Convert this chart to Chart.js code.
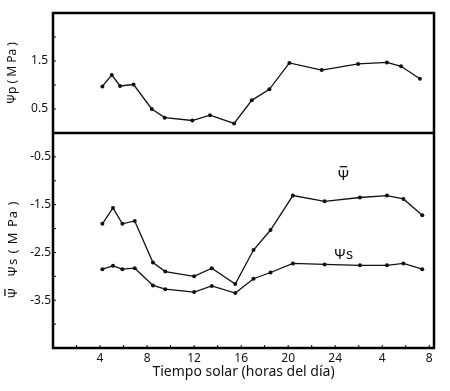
<!DOCTYPE html>
<html>
<head>
<meta charset="utf-8">
<script src="https://cdn.jsdelivr.net/npm/chart.js@4"></script>
<style>
  html, body { margin: 0; padding: 0; background: #fff; }
  #wrap { position: relative; width: 450px; height: 391px; }
</style>
</head>
<body>
<div id="wrap"><canvas id="chart" width="450" height="391"></canvas></div>
<script>
// solar time in hours (after 24 the clock wraps: 28 = 4h, 32 = 8h)
const hoursP = [4.2, 5.0, 5.7, 6.85, 8.4, 9.5, 11.85, 13.35, 15.4, 16.9, 18.4, 20.1, 22.85, 25.95, 28.4, 29.6, 31.2];
const hoursS = [4.2, 5.1, 5.9, 6.95, 8.5, 9.55, 12.0, 13.5, 15.5, 17.05, 18.5, 20.4, 23.1, 26.1, 28.4, 29.8, 31.4];

// pressure potential (MPa), top panel
const psiP = [0.97, 1.21, 0.98, 1.01, 0.50, 0.32, 0.26, 0.37, 0.20, 0.68, 0.91, 1.46, 1.31, 1.44, 1.47, 1.39, 1.13];
// mean water potential and osmotic potential (MPa), bottom panel
const psiBar = [-1.90, -1.57, -1.90, -1.84, -2.71, -2.90, -3.00, -2.83, -3.16, -2.45, -2.03, -1.31, -1.43, -1.35, -1.31, -1.38, -1.72];
const psiS = [-2.85, -2.78, -2.85, -2.83, -3.19, -3.27, -3.33, -3.20, -3.35, -3.05, -2.92, -2.73, -2.75, -2.77, -2.77, -2.73, -2.85];

// tick labels
const xTickValues = [4, 8, 12, 16, 20, 24, 28, 32];
const xTickLabels = ['4', '8', '12', '16', '20', '24', '4', '8'];
const yTopTicks = [0.5, 1.5];
const yBottomTicks = [-0.5, -1.5, -2.5, -3.5];

// curve names drawn inside the lower panel (data units); Ψ̄ gets its bar drawn by hand
const curveNames = ['Ψ̄', 'Ψs'];
const curveNameX = [24.7, 24.7];
const curveNameY = [-0.9, -2.55];

const FONT = "'Noto Sans', 'DejaVu Sans', sans-serif";

function pts(xs, ys) {
    return xs.map((x, i) => ({ x: x, y: ys[i] }));
}

function near(list, v) {
    return list.findIndex(t => Math.abs(t - v) < 1e-6);
}

// draws a Ψ with an overbar, centred on (x, y)
function drawPsiBar(ctx, x, y, size) {
    ctx.textAlign = 'center';
    ctx.textBaseline = 'middle';
    ctx.fillText('Ψ', x, y);
    const w = ctx.measureText('Ψ').width;
    ctx.lineWidth = 1.2;
    ctx.beginPath();
    ctx.moveTo(x - w * 0.3, y - size * 0.62);
    ctx.lineTo(x + w * 0.3, y - size * 0.62);
    ctx.stroke();
}

// frame, inward ticks, curve names and the lower axis title
const framePlugin = {
    id: 'frame',
    afterDraw(chart) {
        const { ctx, chartArea: a, scales } = chart;
        ctx.save();
        ctx.strokeStyle = '#000';
        ctx.fillStyle = '#111';
        ctx.lineWidth = 1;

        // small inward ticks
        ctx.beginPath();
        scales.x.ticks.forEach(t => {
            if (t.value <= 0 || t.value % 2 !== 0) return;
            const px = scales.x.getPixelForValue(t.value);
            ctx.moveTo(px, a.bottom);
            ctx.lineTo(px, a.bottom - 3);
        });
        ['yP', 'yS'].forEach(id => {
            const s = scales[id];
            s.ticks.forEach(t => {
                if (t.value <= s.min || t.value >= s.max) return;
                const py = s.getPixelForValue(t.value);
                ctx.moveTo(a.left, py);
                ctx.lineTo(a.left + 3, py);
            });
        });
        ctx.stroke();

        // heavy frame and panel divider
        ctx.lineWidth = 2.5;
        ctx.strokeRect(a.left, a.top, a.right - a.left, a.bottom - a.top);
        const divY = Math.min(scales.yP.bottom, scales.yS.bottom);
        ctx.beginPath();
        ctx.moveTo(a.left, divY);
        ctx.lineTo(a.right, divY);
        ctx.stroke();

        // curve names
        ctx.font = '15px ' + FONT;
        curveNames.forEach((n, i) => {
            const px = scales.x.getPixelForValue(curveNameX[i]);
            const py = scales.yS.getPixelForValue(curveNameY[i]);
            if (n === 'Ψ̄') {
                drawPsiBar(ctx, px, py, 15);
            } else {
                ctx.textAlign = 'center';
                ctx.textBaseline = 'middle';
                ctx.fillText(n, px, py);
            }
        });

        // lower y title, rotated: "Ψ̄  Ψs (MPa)"
        const s = scales.yS;
        const cy = (s.top + s.bottom) / 2;
        ctx.translate(13, cy);
        ctx.rotate(-Math.PI / 2);
        ctx.font = '13px ' + FONT;
        ctx.letterSpacing = '1px';
        const rest = 'Ψs ( M Pa )';
        const w1 = ctx.measureText('Ψ').width;
        const w2 = ctx.measureText(rest).width;
        const gap = 10;
        const start = -9 - (w1 + gap + w2) / 2;
        drawPsiBar(ctx, start + w1 / 2, 0, 13);
        ctx.textAlign = 'left';
        ctx.fillText(rest, start + w1 + gap, 0);
        ctx.restore();
    }
};

const lineStyle = {
    borderColor: '#111',
    backgroundColor: '#111',
    borderWidth: 1.3,
    pointRadius: 2,
    pointBorderWidth: 0,
    tension: 0,
    fill: false
};

new Chart(document.getElementById('chart'), {
    type: 'line',
    data: {
        datasets: [
            Object.assign({ label: 'Ψp', data: pts(hoursP, psiP), yAxisID: 'yP' }, lineStyle),
            Object.assign({ label: 'Ψ̄', data: pts(hoursS, psiBar), yAxisID: 'yS' }, lineStyle),
            Object.assign({ label: 'Ψs', data: pts(hoursS, psiS), yAxisID: 'yS' }, lineStyle)
        ]
    },
    options: {
        responsive: false,
        animation: false,
        layout: { padding: { top: 13, right: 16, bottom: 0, left: 0 } },
        plugins: {
            legend: { display: false },
            tooltip: { enabled: false }
        },
        scales: {
            x: {
                type: 'linear',
                min: 0,
                max: 32.4,
                grid: { display: false, drawTicks: false },
                border: { display: false },
                ticks: {
                    stepSize: 2,
                    includeBounds: false,
                    autoSkip: false,
                    maxRotation: 0,
                    padding: 3,
                    color: '#111',
                    font: { family: FONT, size: 12 },
                    callback: v => {
                        const i = near(xTickValues, v);
                        return i < 0 ? '' : xTickLabels[i];
                    }
                },
                title: {
                    display: true,
                    text: 'Tiempo solar (horas del día)',
                    color: '#111',
                    font: { family: FONT, size: 14 },
                    padding: { top: 2, bottom: 11 }
                },
                afterFit: s => { s.height = 43; }
            },
            // bottom panel first: left-side stacks are placed in reverse order
            yS: {
                type: 'linear',
                position: 'left',
                stack: 'panels',
                stackWeight: 215,
                min: -4.5,
                max: 0,
                grid: { display: false, drawTicks: false },
                border: { display: false },
                ticks: {
                    stepSize: 0.5,
                    autoSkip: false,
                    padding: 2,
                    color: '#111',
                    font: { family: FONT, size: 12 },
                    callback: v => near(yBottomTicks, v) < 0 ? '' : String(v)
                },
                title: { display: false },
                afterFit: s => { s.width = 53; }
            },
            yP: {
                type: 'linear',
                position: 'left',
                stack: 'panels',
                stackWeight: 120,
                min: 0,
                max: 2.5,
                grid: { display: false, drawTicks: false },
                border: { display: false },
                ticks: {
                    stepSize: 0.5,
                    autoSkip: false,
                    padding: 5,
                    color: '#111',
                    font: { family: FONT, size: 12 },
                    callback: v => near(yTopTicks, v) < 0 ? '' : String(v)
                },
                title: {
                    display: true,
                    text: 'Ψp ( M Pa )',
                    color: '#111',
                    font: { family: FONT, size: 12 },
                    padding: { top: 5, bottom: 0 }
                },
                afterFit: s => { s.width = 53; }
            }
        }
    },
    plugins: [framePlugin]
});
</script>
</body>
</html>
